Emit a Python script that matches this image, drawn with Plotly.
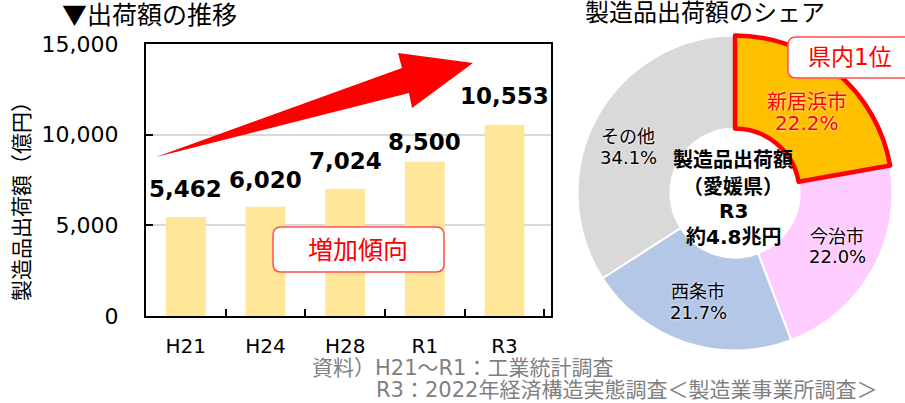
import plotly.graph_objects as go

# ---- data ----
categories = ["H21", "H24", "H28", "R1", "R3"]
shipments = [5462, 6020, 7024, 8500, 10553]
y_ticks = [0, 5000, 10000, 15000]

share_labels = ["新居浜市", "今治市", "西条市", "その他"]
share_values = [22.2, 22.0, 21.7, 34.1]
share_colors = ["#FFC000", "#FFCCFF", "#B4C7E7", "#D9D9D9"]

W, H = 905, 403
FONT = "DejaVu Sans, Noto Sans CJK JP, sans-serif"
CJK = "Noto Sans CJK JP, sans-serif"


def fx(x):
    return x / W


def fy(y):
    return 1 - y / H


def path_from_px(cmds):
    out = []
    for c in cmds:
        if isinstance(c, str):
            out.append(c)
        else:
            out.append(f"{fx(c[0]):.5f},{fy(c[1]):.5f}")
    return " ".join(out)


def rounded_rect(x0, y0, x1, y1, r):
    return path_from_px([
        "M", (x0 + r, y0), "L", (x1 - r, y0), "Q", (x1, y0), (x1, y0 + r),
        "L", (x1, y1 - r), "Q", (x1, y1), (x1 - r, y1),
        "L", (x0 + r, y1), "Q", (x0, y1), (x0, y1 - r),
        "L", (x0, y0 + r), "Q", (x0, y0), (x0 + r, y0), "Z",
    ])


fig = go.Figure()

# ---- bar chart ----
fig.add_trace(go.Bar(
    x=categories, y=shipments, width=0.5,
    marker=dict(color="#FFE699", line=dict(width=0)),
    hoverinfo="skip", showlegend=False,
))

# ---- donut ----
cx, cy, R = 735, 193, 157.5
pie_domain = dict(x=[fx(cx - R), fx(cx + R)], y=[fy(cy + R), fy(cy - R)])
fig.add_trace(go.Pie(
    labels=share_labels, values=share_values, sort=False, direction="clockwise",
    rotation=0, hole=0.41, domain=pie_domain, textinfo="none", hoverinfo="skip",
    marker=dict(colors=share_colors, line=dict(color="white", width=2)),
    showlegend=False,
))
# red outline on top for the leading slice
fig.add_trace(go.Pie(
    labels=share_labels, values=share_values, sort=False, direction="clockwise",
    rotation=0, hole=0.41, domain=pie_domain, textinfo="none", hoverinfo="skip",
    marker=dict(colors=[share_colors[0]] + ["rgba(0,0,0,0)"] * 3,
                line=dict(color=["#FF0000"] + ["rgba(0,0,0,0)"] * 3,
                          width=[4.5, 0, 0, 0])),
    showlegend=False,
))

fig.update_layout(
    width=W, height=H, margin=dict(l=0, r=0, t=0, b=0, autoexpand=False),
    paper_bgcolor="white", plot_bgcolor="white",
    font=dict(family=FONT, color="black"),
    bargap=0.5,
    xaxis=dict(
        domain=[fx(146), fx(551)], anchor="y", type="category",
        showline=True, linecolor="black", linewidth=2, mirror=True,
        ticks="inside", tickson="boundaries", ticklen=7, tickwidth=2, tickcolor="black",
        tickfont=dict(size=20, family=FONT), ticklabelstandoff=11,
        showgrid=False, fixedrange=True, automargin=False,
    ),
    yaxis=dict(
        domain=[fy(316), fy(44)], anchor="x", range=[0, 15000],
        tickvals=y_ticks, tickformat=",",
        showline=True, linecolor="black", linewidth=2, mirror=True,
        ticks="inside", ticklen=7, tickwidth=2, tickcolor="black",
        showgrid=True, gridcolor="#D9D9D9", gridwidth=1.5, zeroline=False,
        tickfont=dict(size=22, family=FONT), ticklabelstandoff=21, fixedrange=True,
        automargin=False,
    ),
)

annotations = []


def add_text(x, y, text, size, color="black", xanchor="center", bold=False, angle=0, family=FONT):
    annotations.append(dict(
        x=fx(x), y=fy(y), xref="paper", yref="paper", text=f"<b>{text}</b>" if bold else text,
        showarrow=False, xanchor=xanchor, yanchor="middle", textangle=angle,
        font=dict(size=size, color=color, family=family),
    ))


# titles
add_text(60, 13, "▼出荷額の推移", 25, xanchor="left", family=CJK)
add_text(705, 13, "製造品出荷額のシェア", 24)
add_text(22, 196, "製造品出荷額（億円）", 21, angle=-90)

# bar value labels
label_offsets = [28, 27, 27.5, 20, 29]
for c, v, off in zip(categories, shipments, label_offsets):
    annotations.append(dict(
        x=c, y=v, xref="x", yref="y", text=f"<b>{v:,}</b>", showarrow=False,
        yanchor="middle", yshift=off, font=dict(size=23, color="black", family=FONT),
    ))

# boxes text
add_text(358, 250, "増加傾向", 25, color="#FF0000")
add_text(850, 57, "県内1位", 23, color="#FF0000")

# donut labels
glow = "0px 0px 3px white"
pie_label_pos = [(807, 102, 123, 20, "#FF0000"), (837, 236, 256, 18, "black"),
                 (698, 291, 312, 18, "black"), (628, 136, 158, 18, "black")]
for name, val, (x, y1, y2, sz, col) in zip(share_labels, share_values, pie_label_pos):
    for yy, t in ((y1, name), (y2, f"{val:.1f}%")):
        annotations.append(dict(
            x=fx(x), y=fy(yy), xref="paper", yref="paper", text=t, showarrow=False,
            xanchor="center", yanchor="middle",
            font=dict(size=sz, color=col, family=FONT, shadow=glow),
        ))

# centre text
for yy, t in ((160, "製造品出荷額"), (187, "（愛媛県）"), (211, "R3"), (237, "約4.8兆円")):
    add_text(733, yy, t, 20, bold=True)

# source note
add_text(310, 368, "資料）H21～R1：工業統計調査", 21, color="#808080", xanchor="left")
add_text(374, 390, "R3：2022年経済構造実態調査＜製造業事業所調査＞", 21, color="#808080", xanchor="left")

fig.update_layout(annotations=annotations)

# ---- shapes ----
arrow = path_from_px(["M", (156, 157), "L", (402, 68), "L", (398, 53), "L", (473, 63),
                      "L", (412, 108), "L", (409, 93), "Z"])
shapes = [
    dict(type="path", path=arrow, xref="paper", yref="paper",
         fillcolor="#FF0000", line=dict(width=0), layer="above"),
    dict(type="path", path=rounded_rect(273, 227, 444, 272, 8), xref="paper", yref="paper",
         fillcolor="white", line=dict(color="#FF5050", width=1.5), layer="above"),
    dict(type="path", path=rounded_rect(788, 37, 915, 78, 8), xref="paper", yref="paper",
         fillcolor="white", line=dict(color="#FF5050", width=1.5), layer="above"),
]
fig.update_layout(shapes=shapes)

fig.write_html(
    "out.html",
    config={"displayModeBar": False},
    post_script="document.body.style.margin='0';document.body.style.overflow='hidden';",
)
